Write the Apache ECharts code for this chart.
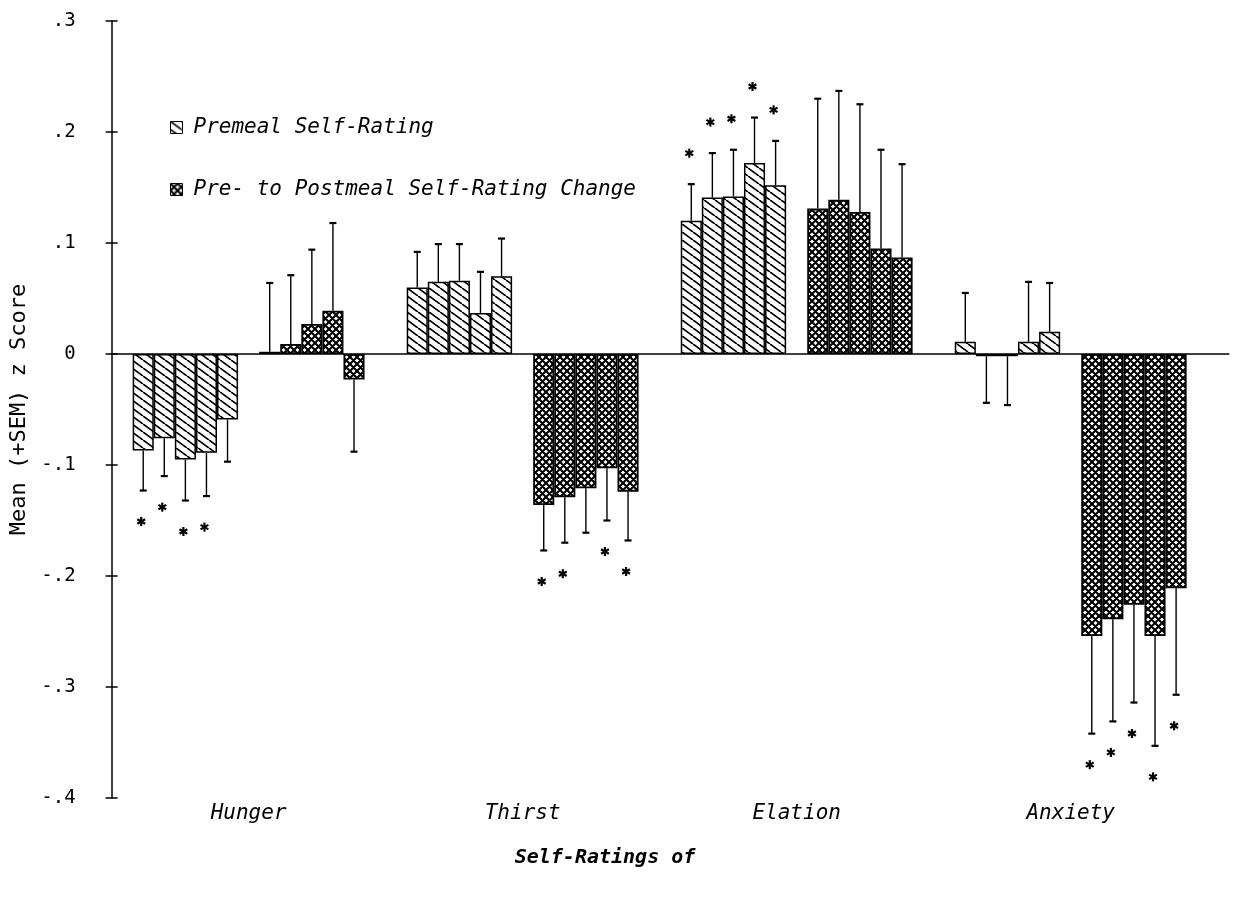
<!DOCTYPE html>
<html>
<head>
<meta charset="utf-8">
<script src="https://cdn.jsdelivr.net/npm/echarts@6/dist/echarts.min.js"></script>
<style>
html,body{margin:0;padding:0;background:#fff;}
#chart{width:1234px;height:902px;}
</style>
</head>
<body>
<div id="chart"></div>
<script>
// ---------- data ----------
const categories = ['Hunger', 'Thirst', 'Elation', 'Anxiety'];
const seriesNames = ['Premeal Self-Rating', 'Pre- to Postmeal Self-Rating Change'];
const yAxisTitle = 'Mean (+SEM) z Score';
const xAxisTitle = 'Self-Ratings of';
const yTickValues = [-0.4, -0.3, -0.2, -0.1, 0, 0.1, 0.2, 0.3];

// five bars per self-rating, one row per category (Hunger, Thirst, Elation, Anxiety)
const premealMean = [
  [-0.087, -0.076, -0.095, -0.089, -0.059],
  [ 0.060,  0.065,  0.066,  0.037,  0.070],
  [ 0.120,  0.141,  0.142,  0.172,  0.152],
  [ 0.011, -0.002, -0.002,  0.011,  0.020]
];
const premealSEM = [
  [0.036, 0.034, 0.037, 0.039, 0.038],
  [0.032, 0.034, 0.033, 0.037, 0.034],
  [0.033, 0.040, 0.042, 0.041, 0.040],
  [0.044, 0.042, 0.044, 0.054, 0.044]
];
const premealSig = [
  [1, 1, 1, 1, 0],
  [0, 0, 0, 0, 0],
  [1, 1, 1, 1, 1],
  [0, 0, 0, 0, 0]
];
const changeMean = [
  [ 0.002,  0.009,  0.027,  0.039, -0.023],
  [-0.136, -0.129, -0.121, -0.103, -0.124],
  [ 0.131,  0.139,  0.128,  0.095,  0.087],
  [-0.254, -0.239, -0.226, -0.254, -0.211]
];
const changeSEM = [
  [0.062, 0.062, 0.067, 0.079, 0.065],
  [0.041, 0.041, 0.040, 0.047, 0.044],
  [0.099, 0.098, 0.097, 0.089, 0.084],
  [0.088, 0.092, 0.088, 0.099, 0.096]
];
const changeSig = [
  [0, 0, 0, 0, 0],
  [1, 1, 0, 1, 1],
  [0, 0, 0, 0, 0],
  [1, 1, 1, 1, 1]
];

// ---------- layout of slots on the category axis ----------
const SLOTS_PER_CAT = 13, PRE_OFFSET = 1, CHG_OFFSET = 7, LABEL_OFFSET = 6;
const TOTAL_SLOTS = SLOTS_PER_CAT * categories.length + 1;
const slotIds = [];
for (let i = 0; i < TOTAL_SLOTS; i++) slotIds.push('s' + i);
const slotLabel = {};
categories.forEach((c, ci) => { slotLabel[ci * SLOTS_PER_CAT + LABEL_OFFSET] = c; });

function buildBars(means, offset) {
  const arr = new Array(TOTAL_SLOTS).fill('-');
  means.forEach((row, ci) => row.forEach((v, k) => { arr[ci * SLOTS_PER_CAT + offset + k] = v; }));
  return arr;
}
function buildErr(means, sems, offset) {
  const out = [];
  means.forEach((row, ci) => row.forEach((v, k) => {
    const s = sems[ci][k];
    const end = v >= 0 ? v + s : v - s;
    out.push([ci * SLOTS_PER_CAT + offset + k, v, end]);
  }));
  return out;
}
function buildStars(means, sems, sig, offset) {
  const out = [];
  means.forEach((row, ci) => row.forEach((v, k) => {
    if (!sig[ci][k]) return;
    const s = sems[ci][k];
    const end = v >= 0 ? v + s : v - s;
    out.push([ci * SLOTS_PER_CAT + offset + k, end, v >= 0 ? 1 : -1]);
  }));
  return out;
}

// ---------- fill patterns ----------
function hatchCanvas() {
  const w = 11, h = 8, c = document.createElement('canvas');
  c.width = w; c.height = h;
  const g = c.getContext('2d');
  g.fillStyle = '#fff'; g.fillRect(0, 0, w, h);
  g.strokeStyle = '#000'; g.lineWidth = 1.7;
  g.beginPath();
  [-w, 0, w].forEach(o => { g.moveTo(o, 0); g.lineTo(o + w, h); });
  g.stroke();
  return c;
}
function crossCanvas() {
  const s = 7, c = document.createElement('canvas');
  c.width = s; c.height = s;
  const g = c.getContext('2d');
  g.fillStyle = '#fff'; g.fillRect(0, 0, s, s);
  g.strokeStyle = '#000'; g.lineWidth = 2.1;
  g.beginPath();
  [-s, 0, s].forEach(o => {
    g.moveTo(o, 0); g.lineTo(o + s, s);
    g.moveTo(o + s, 0); g.lineTo(o, s);
  });
  g.stroke();
  return c;
}
const hatchFill = { image: hatchCanvas(), repeat: 'repeat' };
const crossFill = { image: crossCanvas(), repeat: 'repeat' };

const MONO = '"DejaVu Sans Mono", monospace';

function errRender(params, api) {
  const x = api.value(0), m = api.value(1), e = api.value(2);
  const p0 = api.coord([x, m]);
  const p1 = api.coord([x, e]);
  const cap = 3.5;
  return {
    type: 'group',
    children: [
      { type: 'line', shape: { x1: p0[0], y1: p0[1], x2: p1[0], y2: p1[1] }, style: { stroke: '#000', lineWidth: 1.4 } },
      { type: 'line', shape: { x1: p1[0] - cap, y1: p1[1], x2: p1[0] + cap, y2: p1[1] }, style: { stroke: '#000', lineWidth: 2.2 } }
    ]
  };
}
function starRender(params, api) {
  const x = api.value(0), e = api.value(1), dir = api.value(2);
  const p = api.coord([x, e]);
  const cx = p[0] - 2, cy = p[1] - dir * 31;
  const r = 4.5;
  const children = [];
  [90, 30, -30].forEach(a => {
    const rad = a * Math.PI / 180;
    children.push({
      type: 'line',
      shape: { x1: cx - r * Math.cos(rad), y1: cy - r * Math.sin(rad), x2: cx + r * Math.cos(rad), y2: cy + r * Math.sin(rad) },
      style: { stroke: '#000', lineWidth: 2.2 }
    });
  });
  return { type: 'group', children };
}

function yFmt(val) {
  const v = Math.round(val * 10) / 10;
  if (v === 0) return '0';
  const s = Math.abs(v).toFixed(1).replace(/^0/, '');
  return (v < 0 ? '-' : '') + s;
}

const chart = echarts.init(document.getElementById('chart'), null, { renderer: 'canvas' });
chart.setOption({
  backgroundColor: '#fff',
  animation: false,
  grid: { left: 111.6, right: 5.2, top: 21, bottom: 104, containLabel: false },
  legend: {
    orient: 'vertical',
    left: 165,
    top: 112,
    itemWidth: 12,
    itemHeight: 12,
    itemGap: 41,
    icon: 'rect',
    data: seriesNames,
    itemStyle: { borderColor: '#000', borderWidth: 1 },
    textStyle: { fontFamily: MONO, fontStyle: 'italic', fontSize: 21, color: '#000', padding: [0, 0, 0, 6] },
    selectedMode: false
  },
  graphic: [
    {
      type: 'text',
      x: 605, y: 858,
      style: {
        text: xAxisTitle, align: 'center', verticalAlign: 'middle',
        fontFamily: MONO, fontStyle: 'italic', fontWeight: 'bold', fontSize: 20, fill: '#000'
      }
    }
  ],
  xAxis: [
    {
      type: 'category', data: slotIds, boundaryGap: true,
      axisLine: { show: true, onZero: true, lineStyle: { color: '#000', width: 1.5 } },
      axisTick: { show: false }, axisLabel: { show: false }, splitLine: { show: false }
    },
    {
      type: 'category', data: slotIds, boundaryGap: true, position: 'bottom',
      axisLine: { show: false, onZero: false }, axisTick: { show: false }, splitLine: { show: false },
      axisLabel: {
        interval: 0, margin: 5,
        formatter: (v, i) => slotLabel[i] || '',
        fontFamily: MONO, fontStyle: 'italic', fontSize: 21, color: '#000'
      }
    }
  ],
  yAxis: [
    {
      type: 'value', min: yTickValues[0], max: yTickValues[yTickValues.length - 1], interval: 0.1,
      position: 'left',
      axisLine: { show: true, onZero: false, lineStyle: { color: '#000', width: 1.5 } },
      axisTick: { show: false },
      splitLine: { show: false },
      axisLabel: { formatter: yFmt, fontFamily: MONO, fontSize: 19, color: '#000', margin: 36 },
      name: yAxisTitle, nameLocation: 'middle', nameGap: 78,
      nameTextStyle: { fontFamily: MONO, fontSize: 22, color: '#000' }
    },
    {
      type: 'value', min: yTickValues[0], max: yTickValues[yTickValues.length - 1], interval: 0.1,
      position: 'left', offset: -6,
      axisLine: { show: false, onZero: false },
      axisTick: { show: true, length: 12, lineStyle: { color: '#000', width: 1.5 } },
      splitLine: { show: false }, axisLabel: { show: false }
    }
  ],
  series: [
    {
      name: seriesNames[0], type: 'bar', xAxisIndex: 0, yAxisIndex: 0,
      data: buildBars(premealMean, PRE_OFFSET),
      barWidth: '100%', barGap: '-100%', barCategoryGap: '0%',
      itemStyle: { color: hatchFill, borderColor: '#000', borderWidth: 1.5 },
      emphasis: { disabled: true }
    },
    {
      name: seriesNames[1], type: 'bar', xAxisIndex: 0, yAxisIndex: 0,
      data: buildBars(changeMean, CHG_OFFSET),
      barWidth: '100%', barGap: '-100%', barCategoryGap: '0%',
      itemStyle: { color: crossFill, borderColor: '#000', borderWidth: 1.8 },
      emphasis: { disabled: true }
    },
    {
      type: 'custom', xAxisIndex: 0, yAxisIndex: 0, renderItem: errRender,
      encode: { x: 0, y: [1, 2] }, data: buildErr(premealMean, premealSEM, PRE_OFFSET), z: 1
    },
    {
      type: 'custom', xAxisIndex: 0, yAxisIndex: 0, renderItem: errRender,
      encode: { x: 0, y: [1, 2] }, data: buildErr(changeMean, changeSEM, CHG_OFFSET), z: 1
    },
    {
      type: 'custom', xAxisIndex: 0, yAxisIndex: 0, renderItem: starRender,
      encode: { x: 0, y: 1 }, data: buildStars(premealMean, premealSEM, premealSig, PRE_OFFSET)
    },
    {
      type: 'custom', xAxisIndex: 0, yAxisIndex: 0, renderItem: starRender,
      encode: { x: 0, y: 1 }, data: buildStars(changeMean, changeSEM, changeSig, CHG_OFFSET)
    }
  ]
});
</script>
</body>
</html>
